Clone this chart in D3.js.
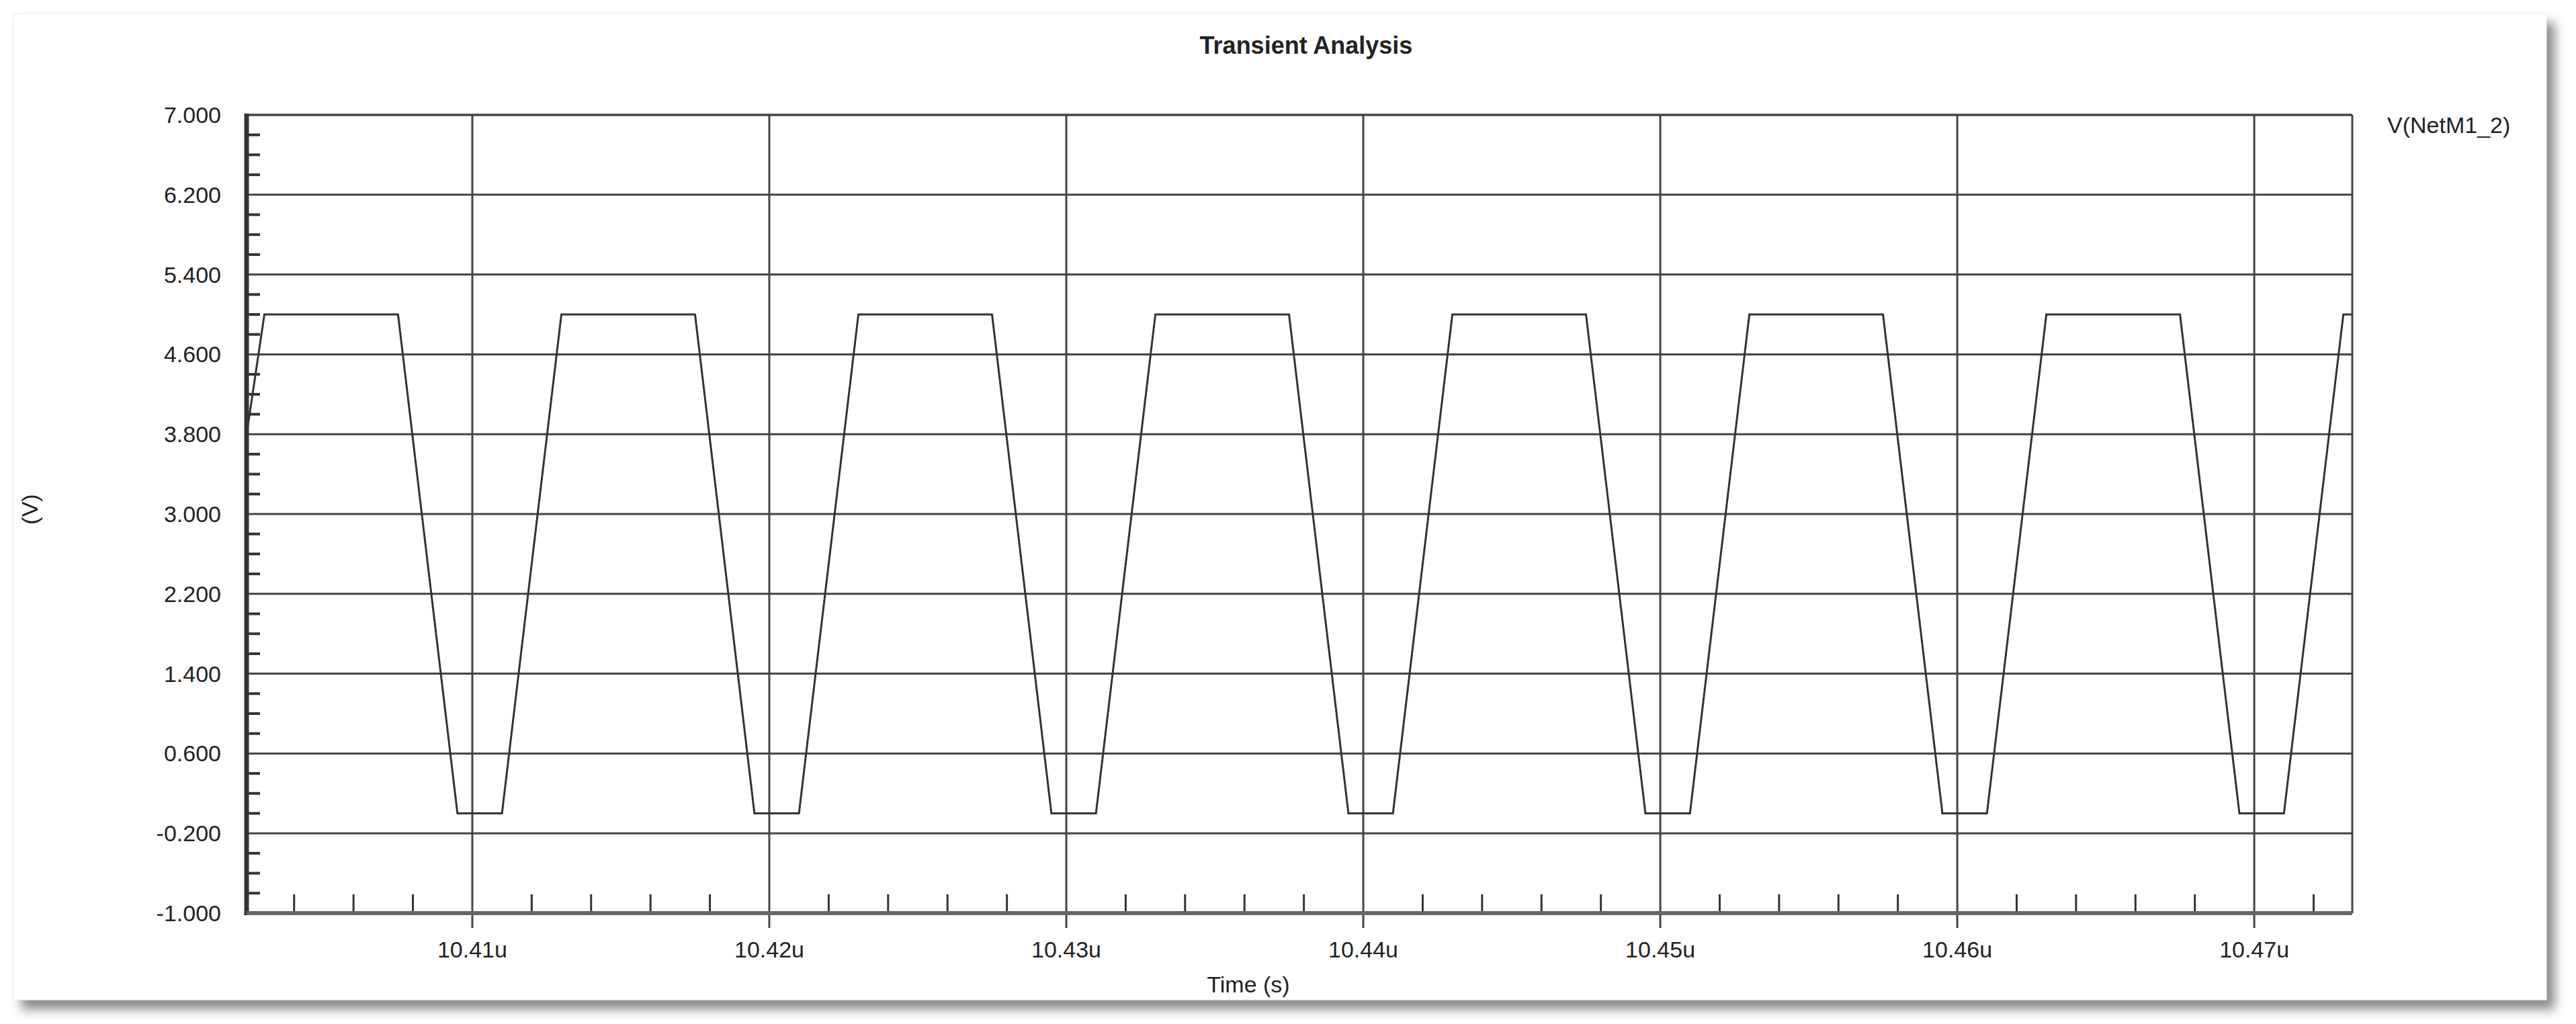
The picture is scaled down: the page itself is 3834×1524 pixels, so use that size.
<!DOCTYPE html>
<html><head><meta charset="utf-8">
<script src="https://cdn.jsdelivr.net/npm/d3@7"></script>
<style>body{margin:0;background:#fff}svg{display:block}</style>
</head><body>
<script>
const timeUs = [10.4024,10.4030,10.4075,10.4095,10.4110,10.4130,10.4175,10.4195,10.4210,10.4230,10.4275,10.4295,10.4310,10.4330,10.4375,10.4395,10.4410,10.4430,10.4475,10.4495,10.4510,10.4530,10.4575,10.4595,10.4610,10.4630,10.4675,10.4695,10.4710,10.4730,10.4733];
const voltage = [3.8,5,5,0,0,5,5,0,0,5,5,0,0,5,5,0,0,5,5,0,0,5,5,0,0,5,5,0,0,5,5];
const xTicks = [10.41,10.42,10.43,10.44,10.45,10.46,10.47];
const yTicks = [7.0,6.2,5.4,4.6,3.8,3.0,2.2,1.4,0.6,-0.2,-1.0];
const title = "Transient Analysis", seriesName = "V(NetM1_2)", xLabel = "Time (s)", yLabel = "(V)";

const W=3834,H=1524, L=367,R=3501,T=171,B=1359;
const svg=d3.select("body").append("svg").attr("width",W).attr("height",H);
const defs=svg.append("defs");
const f=defs.append("filter").attr("id","sh").attr("x","-5%").attr("y","-5%").attr("width","110%").attr("height","115%");
f.append("feDropShadow").attr("dx",12).attr("dy",14).attr("stdDeviation",8).attr("flood-color","#000").attr("flood-opacity",0.45);
svg.append("rect").attr("x",20).attr("y",20).attr("width",3770).attr("height",1468).attr("fill","#fff").attr("stroke","#e8e8e8").attr("filter","url(#sh)");

const x=d3.scaleLinear().domain([10.4024,10.4733]).range([L,R]);
const y=d3.scaleLinear().domain([-1,7]).range([B,T]);
const font="'Liberation Sans', Arial, sans-serif";
const g=svg.append("g");
// grid
g.selectAll(".gx").data(xTicks).join("line").attr("x1",d=>x(d)).attr("x2",d=>x(d)).attr("y1",T).attr("y2",B+22).attr("stroke","#444").attr("stroke-width",3);
g.selectAll(".gy").data(yTicks).join("line").attr("x1",L).attr("x2",R).attr("y1",d=>y(d)).attr("y2",d=>y(d)).attr("stroke","#444").attr("stroke-width",3);
// minor ticks
const yMinor=d3.range(-1,7.001,0.2).filter(v=>!yTicks.some(t=>Math.abs(t-v)<1e-6));
g.selectAll(".my").data(yMinor).join("line").attr("x1",L).attr("x2",L+20).attr("y1",d=>y(d)).attr("y2",d=>y(d)).attr("stroke","#333").attr("stroke-width",4);
const xMinor=d3.range(10.404,10.4733,0.002).filter(v=>!xTicks.some(t=>Math.abs(t-v)<1e-6));
g.selectAll(".mx").data(xMinor).join("line").attr("x1",d=>x(d)).attr("x2",d=>x(d)).attr("y1",B).attr("y2",B-28).attr("stroke","#333").attr("stroke-width",3);
// frame
g.append("line").attr("x1",L).attr("x2",R).attr("y1",T).attr("y2",T).attr("stroke","#444").attr("stroke-width",3);
g.append("line").attr("x1",R).attr("x2",R).attr("y1",T).attr("y2",B).attr("stroke","#444").attr("stroke-width",3);
g.append("line").attr("x1",L).attr("x2",L).attr("y1",T-2).attr("y2",B+3).attr("stroke","#333").attr("stroke-width",7);
g.append("line").attr("x1",L).attr("x2",R).attr("y1",B).attr("y2",B).attr("stroke","#666").attr("stroke-width",6);
// waveform
g.append("path").datum(timeUs.map((t,i)=>[t,voltage[i]])).attr("fill","none").attr("stroke","#333").attr("stroke-width",3)
 .attr("d",d3.line().x(d=>x(d[0])).y(d=>y(d[1])));
// labels
g.selectAll(".yl").data(yTicks).join("text").attr("x",L-38).attr("y",d=>y(d)+12).attr("text-anchor","end").attr("font-family",font).attr("font-size",34).attr("fill","#222").text(d=>d.toFixed(3));
g.selectAll(".xl").data(xTicks).join("text").attr("x",d=>x(d)).attr("y",1425).attr("text-anchor","middle").attr("font-family",font).attr("font-size",34).attr("fill","#222").text(d=>d.toFixed(2)+"u");
svg.append("text").attr("x",1944).attr("y",80).attr("text-anchor","middle").attr("font-family",font).attr("font-weight","bold").attr("font-size",36).attr("fill","#222").text(title);
svg.append("text").attr("x",1858).attr("y",1477).attr("text-anchor","middle").attr("font-family",font).attr("font-size",34).attr("fill","#222").text(xLabel);
svg.append("text").attr("transform","translate(56,758) rotate(-90)").attr("text-anchor","middle").attr("font-family",font).attr("font-size",34).attr("fill","#222").text(yLabel);
svg.append("text").attr("x",3553).attr("y",198).attr("font-family",font).attr("font-size",34).attr("fill","#222").text(seriesName);
</script></body></html>
